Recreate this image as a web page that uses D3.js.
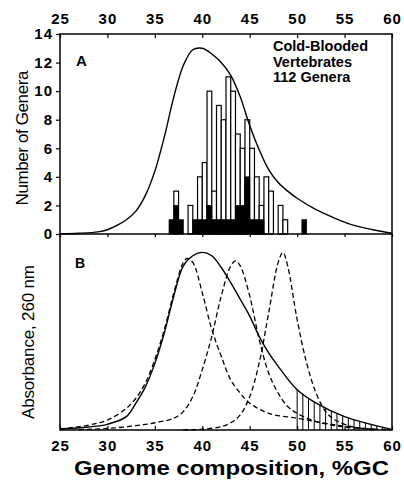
<!DOCTYPE html>
<html>
<head>
<meta charset="utf-8">
<script src="https://cdn.jsdelivr.net/npm/d3@7"></script>
<style>
  body { margin: 0; background: #fff; }
  svg text { font-family: "Liberation Sans", Arial, sans-serif; fill: #000; }
</style>
</head>
<body>
<svg id="chart"></svg>
<script>
// bins are 0.5 %GC wide, keyed by left edge
const binStart = [36.5, 37, 37.5, 38, 38.5, 39, 39.5, 40, 40.5, 41, 41.5, 42, 42.5, 43,
    43.5, 44, 44.5, 45, 45.5, 46, 46.5, 47, 47.5, 48, 48.5, 49, 49.5, 50, 50.5];
const binTotal = [1, 3, 1, 0, 2, 1, 4, 5, 10, 3, 9, 8, 11, 10,
    7, 6, 8, 6, 4, 2, 4, 3, 0, 2, 1, 0, 0, 0, 1];
const binBlack = [1, 2, 1, 0, 0, 1, 1, 1, 2, 1, 1, 1, 1, 1,
    2, 2, 4, 1, 1, 1, 0, 0, 0, 0, 0, 0, 0, 0, 1];

// fitted curve of panel A (genera)
const curveAx = [25, 27, 29, 30, 31, 32, 33, 34, 35, 36, 37, 38, 39, 40, 41, 42, 43, 44, 45, 46, 47, 48, 49, 50, 52, 54, 56, 58, 60];
const curveAy = [0, 0.05, 0.15, 0.3, 0.6, 1.0, 1.6, 2.7, 4.4, 6.8, 9.6, 11.8, 12.9, 13.0, 12.6, 12.0, 11.1, 9.6, 7.6, 5.9, 4.5, 3.6, 3.0, 2.5, 1.7, 1.1, 0.6, 0.3, 0.05];

// panel B absorbance profiles (arbitrary units)
const solidX = [25, 28, 30, 32, 33, 34, 35, 36, 37, 38, 39, 40, 41, 42, 43, 44, 45, 46, 47, 48, 50, 52, 55, 58, 60];
const solidY = [0.5, 1.5, 2.9, 6.8, 13.7, 22, 34, 49.6, 68.4, 83.7, 88.9, 90.6, 88.9, 82.9, 75.2, 66.7, 58.1, 47.8, 39.3, 32.5, 20.5, 13.7, 6.8, 2.6, 0.3];

const dash1X = [25, 28, 30, 32, 33, 34, 35, 36, 37, 38, 38.4, 39, 40, 41, 42, 43, 44, 45, 47, 50, 53, 55, 58];
const dash1Y = [0.5, 2.5, 5.1, 11.1, 16.2, 24, 35.9, 51.3, 70, 85.5, 87.5, 85.5, 70, 51.3, 37.6, 25.6, 18.8, 13.7, 8.5, 6, 3.4, 1.9, 0.5];

const dash2X = [27, 30, 33, 35, 37, 38, 39, 40, 41, 42, 43, 43.5, 44, 45, 46, 47, 48, 49, 50, 52, 55, 58];
const dash2Y = [0.2, 0.8, 2.2, 3.7, 6, 9.4, 17, 30.8, 47.8, 68.4, 83.7, 86.3, 83.7, 68.4, 46.2, 29, 18.8, 12, 8.5, 4.3, 1.5, 0.4];

const dash3X = [38, 40, 42, 43, 44, 45, 46, 47, 48, 48.5, 49, 50, 51, 52, 53, 54, 56, 58, 60];
const dash3Y = [0.1, 0.4, 1.7, 3.7, 7.7, 17, 34.2, 59.8, 85.5, 90.6, 83.7, 56.4, 34.2, 18.8, 9.4, 5.1, 1.5, 0.5, 0.2];

const gcTicks = [25, 30, 35, 40, 45, 50, 55, 60];
const generaTicks = [0, 2, 4, 6, 8, 10, 12, 14];
const legendLines = ["Cold-Blooded", "Vertebrates", "112 Genera"];

const width = 404, height = 481;
const left = 60, right = 392;
const aTop = 34, aBottom = 234, bBottom = 430;

const svg = d3.select("#chart")
    .attr("width", width)
    .attr("height", height);

const x = d3.scaleLinear().domain([25, 60]).range([left, right]);
const yA = d3.scaleLinear().domain([0, 14]).range([aBottom, aTop]);
const yB = d3.scaleLinear().domain([0, 100]).range([bBottom, aBottom]);

// ---- panel A bars
const bars = binStart.map((s, i) => ({ s: s, total: binTotal[i], black: binBlack[i] }))
    .filter(d => d.total > 0);

const barG = svg.append("g");
barG.selectAll("rect.open")
    .data(bars.filter(d => d.total > d.black))
    .enter().append("rect")
    .attr("class", "open")
    .attr("x", d => x(d.s))
    .attr("y", d => yA(d.total))
    .attr("width", d => x(d.s + 0.5) - x(d.s))
    .attr("height", d => yA(0) - yA(d.total))
    .attr("fill", "#fff")
    .attr("stroke", "#000")
    .attr("stroke-width", 1.2);

barG.selectAll("rect.black")
    .data(bars.filter(d => d.black > 0))
    .enter().append("rect")
    .attr("class", "black")
    .attr("x", d => x(d.s))
    .attr("y", d => yA(d.black))
    .attr("width", d => x(d.s + 0.5) - x(d.s))
    .attr("height", d => yA(0) - yA(d.black))
    .attr("fill", "#000")
    .attr("stroke", "#000")
    .attr("stroke-width", 0.8);

// ---- panel A curve
const lineA = d3.line()
    .x(d => x(d[0]))
    .y(d => yA(d[1]))
    .curve(d3.curveCatmullRom);

svg.append("path")
    .datum(curveAx.map((v, i) => [v, curveAy[i]]))
    .attr("d", lineA)
    .attr("fill", "none")
    .attr("stroke", "#000")
    .attr("stroke-width", 1.4);

// ---- panel B
const lineB = d3.line()
    .x(d => x(d[0]))
    .y(d => yB(d[1]))
    .curve(d3.curveCatmullRom);

const solidPts = solidX.map((v, i) => [v, solidY[i]]);

// hatching under the solid curve beyond 50 %GC
const solidAt = g => {
    const i = d3.bisectLeft(solidX, g);
    if (i <= 0) return solidY[0];
    const t = (g - solidX[i - 1]) / (solidX[i] - solidX[i - 1]);
    return solidY[i - 1] + t * (solidY[i] - solidY[i - 1]);
};
const hatch = d3.range(50, 59.9, 0.6);
svg.append("g").selectAll("line")
    .data(hatch)
    .enter().append("line")
    .attr("x1", d => x(d)).attr("x2", d => x(d))
    .attr("y1", yB(0))
    .attr("y2", d => yB(solidAt(d)))
    .attr("stroke", "#000")
    .attr("stroke-width", 1);

[[dash1X, dash1Y], [dash2X, dash2Y], [dash3X, dash3Y]].forEach(([xs, ys]) => {
    svg.append("path")
        .datum(xs.map((v, i) => [v, ys[i]]))
        .attr("d", lineB)
        .attr("fill", "none")
        .attr("stroke", "#000")
        .attr("stroke-width", 1.3)
        .attr("stroke-dasharray", "5,3");
});

svg.append("path")
    .datum(solidPts)
    .attr("d", lineB)
    .attr("fill", "none")
    .attr("stroke", "#000")
    .attr("stroke-width", 1.4);

// ---- frames
svg.append("rect")
    .attr("x", left).attr("y", aTop)
    .attr("width", right - left).attr("height", bBottom - aTop)
    .attr("fill", "none").attr("stroke", "#000").attr("stroke-width", 1.5);
svg.append("line")
    .attr("x1", left).attr("x2", right)
    .attr("y1", aBottom).attr("y2", aBottom)
    .attr("stroke", "#000").attr("stroke-width", 1.5);

// ---- axes
const tickFont = "bold 15px 'Liberation Sans', Arial, sans-serif";

const topAxis = svg.append("g")
    .attr("transform", `translate(0,${aTop})`)
    .call(d3.axisTop(x).tickValues(gcTicks).tickSize(-4).tickPadding(10));
const botAxis = svg.append("g")
    .attr("transform", `translate(0,${bBottom})`)
    .call(d3.axisBottom(x).tickValues(gcTicks).tickSize(-4).tickPadding(10));
const midAxis = svg.append("g")
    .attr("transform", `translate(0,${aBottom})`)
    .call(d3.axisBottom(x).tickValues(gcTicks).tickSize(3).tickFormat(""));
const leftAxis = svg.append("g")
    .attr("transform", `translate(${left},0)`)
    .call(d3.axisLeft(yA).tickValues(generaTicks).tickSize(4).tickPadding(3));

[topAxis, botAxis, midAxis, leftAxis].forEach(g => {
    g.select(".domain").remove();
    g.selectAll("line").attr("stroke-width", 1.2);
    g.selectAll("text").style("font", tickFont).attr("letter-spacing", "1px");
});

// ---- labels
svg.append("text")
    .attr("transform", `translate(28,${(aTop + aBottom) / 2 + 4}) rotate(-90)`)
    .attr("text-anchor", "middle")
    .attr("textLength", 135)
    .style("font-size", "17px")
    .text("Number of Genera");

svg.append("text")
    .attr("transform", `translate(34,${(aBottom + bBottom) / 2 + 10}) rotate(-90)`)
    .attr("text-anchor", "middle")
    .attr("textLength", 154)
    .style("font-size", "17px")
    .text("Absorbance, 260 nm");

svg.append("text")
    .attr("x", 74).attr("y", 475)
    .attr("textLength", 315)
    .attr("lengthAdjust", "spacingAndGlyphs")
    .style("font", "bold 20px 'Liberation Sans', Arial, sans-serif")
    .text("Genome composition, %GC");

svg.append("text")
    .attr("x", 76).attr("y", 66)
    .style("font", "bold 15px 'Liberation Sans', Arial, sans-serif")
    .text("A");
svg.append("text")
    .attr("x", 75).attr("y", 268)
    .style("font", "bold 14px 'Liberation Sans', Arial, sans-serif")
    .text("B");

svg.append("g").selectAll("text")
    .data(legendLines)
    .enter().append("text")
    .attr("x", 273)
    .attr("y", (d, i) => 51 + i * 15.5)
    .style("font", "bold 14.5px 'Liberation Sans', Arial, sans-serif")
    .text(d => d);
</script>
</body>
</html>
